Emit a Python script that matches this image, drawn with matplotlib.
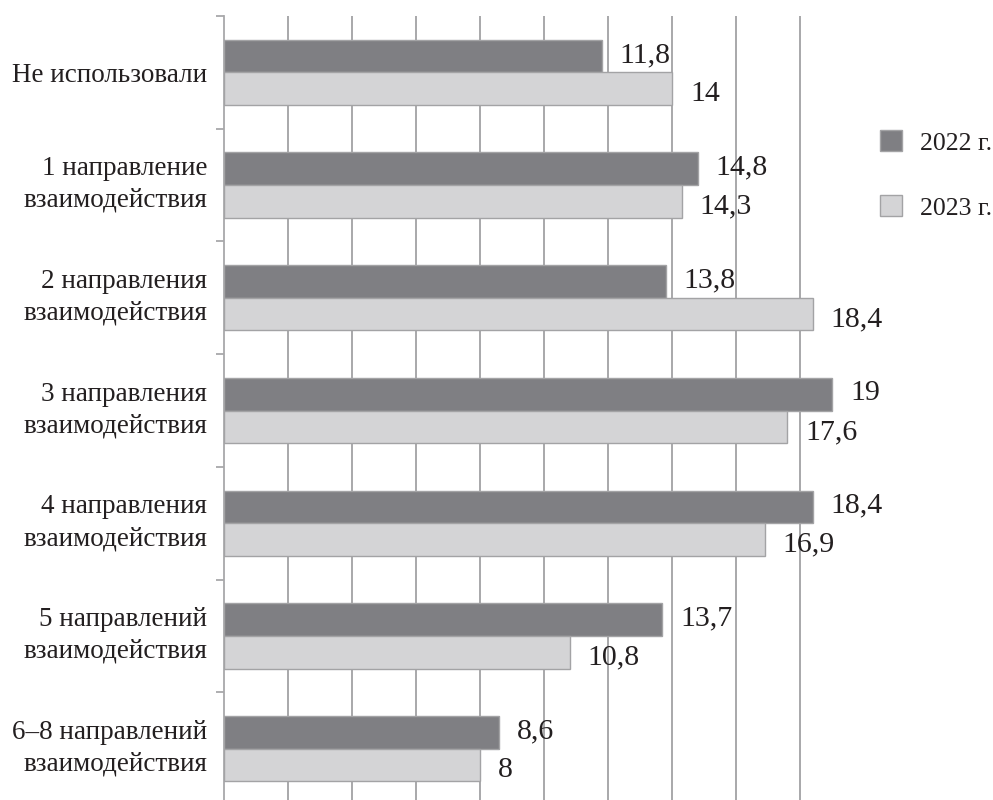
import matplotlib
matplotlib.use("Agg")
import matplotlib.pyplot as plt
from matplotlib.transforms import ScaledTranslation
import numpy as np

categories = [
    "Не использовали",
    "1 направление\nвзаимодействия",
    "2 направления\nвзаимодействия",
    "3 направления\nвзаимодействия",
    "4 направления\nвзаимодействия",
    "5 направлений\nвзаимодействия",
    "6–8 направлений\nвзаимодействия",
]
series_names = ["2022 г.", "2023 г."]
values_2022 = [11.8, 14.8, 13.8, 19, 18.4, 13.7, 8.6]
values_2023 = [14, 14.3, 18.4, 17.6, 16.9, 10.8, 8]

dark = "#7f7f83"
light = "#d4d4d6"
edge = "#a3a3a5"
grid_c = "#a8a8aa"
text_c = "#231f20"
font = "Liberation Serif"

fig = plt.figure(figsize=(9.93, 8.0), dpi=100)
ax = fig.add_axes([224 / 993, -5 / 800, 640 / 993, 789 / 800])

y = np.arange(len(categories))
h = 0.29
b1 = ax.barh(y - h / 2, values_2022, height=h, color=dark, edgecolor=edge,
             linewidth=1, label=series_names[0], zorder=3)
b2 = ax.barh(y + h / 2, values_2023, height=h, color=light, edgecolor=edge,
             linewidth=1, label=series_names[1], zorder=3)

ax.set_xlim(0, 20)
ax.set_ylim(len(categories) - 0.5, -0.5)

# vertical grid every 2 units, drawn behind the bars
ax.set_xticks(np.arange(2, 19, 2))
ax.tick_params(axis="x", length=0, labelbottom=False)
ax.grid(axis="x", color=grid_c, linewidth=1.4, zorder=0)

ax.set_yticks(y)
ax.set_yticklabels(categories, fontfamily=font, fontsize=19.5, color=text_c,
                   linespacing=1.36)
ax.set_yticks(np.arange(-0.5, len(categories) + 0.5, 1), minor=True)
ax.tick_params(axis="y", which="major", length=0, pad=12)
ax.tick_params(axis="y", which="minor", length=6, width=1.3, color=grid_c,
               direction="out")

# two-line category names sit a little higher
for lab in ax.get_yticklabels():
    if "\n" in lab.get_text():
        lab.set_transform(lab.get_transform() +
                          ScaledTranslation(0, 5 / 72, fig.dpi_scale_trans))

for s in ("top", "right", "bottom"):
    ax.spines[s].set_visible(False)
ax.spines["left"].set_color(grid_c)
ax.spines["left"].set_linewidth(1.3)

def fmt(v):
    return f"{v:g}".replace(".", ",")

for yi, v in zip(y, values_2022):
    ax.annotate(fmt(v), (v, yi - h / 2), xytext=(13, 0.8), textcoords="offset points",
                va="center", ha="left", fontfamily=font, fontsize=21.5,
                color=text_c, zorder=4)
for yi, v in zip(y, values_2023):
    ax.annotate(fmt(v), (v, yi + h / 2), xytext=(13, -3.8), textcoords="offset points",
                va="center", ha="left", fontfamily=font, fontsize=21.5,
                color=text_c, zorder=4)

leg = fig.legend(handles=[b1, b2], labels=series_names, loc="center left",
                 bbox_to_anchor=(880 / 993, 1 - 175 / 800), frameon=False,
                 prop={"family": font, "size": 18.5}, handlelength=0.86,
                 handleheight=0.86, handletextpad=0.7, labelspacing=1.58,
                 borderpad=0, borderaxespad=0)
for t in leg.get_texts():
    t.set_color(text_c)

fig.savefig("out.png", dpi=100)
